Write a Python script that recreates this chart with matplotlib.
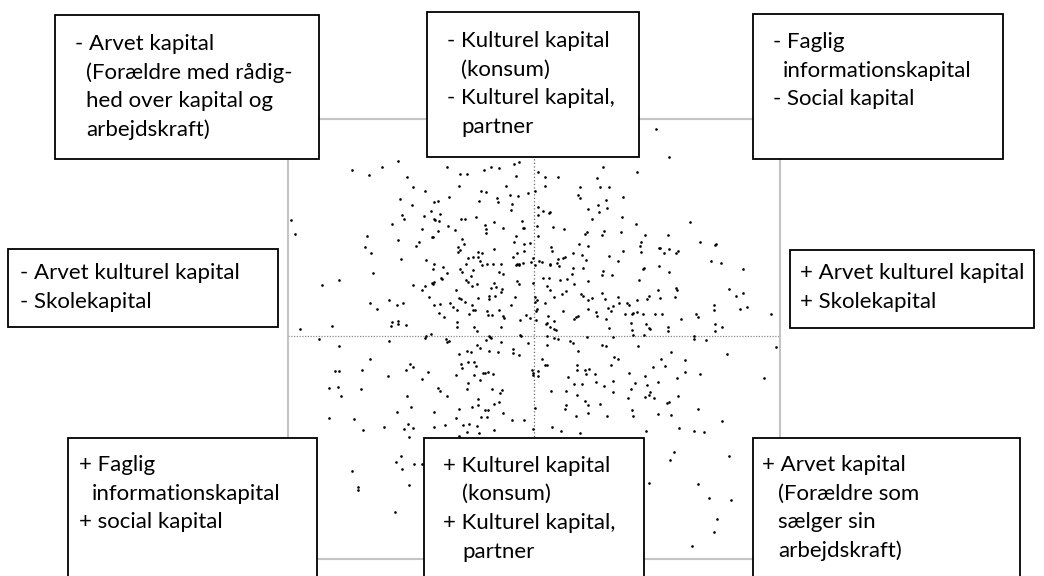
import matplotlib
matplotlib.use("Agg")
import matplotlib.pyplot as plt
from matplotlib.patches import Rectangle

# ---------------- data (object scores, dimension 1 = x, dimension 2 = y) ----------------
upper_left = [(-1.82,1.66),(-1.65,1.61),(-1.52,1.69),(-1.36,1.75),(-1.27,1.59),(-1.21,1.49),(-1.09,1.45),(-0.87,1.69),
    (-1.34,1.37),(-1.22,1.31),(-1.00,1.34),(-0.96,1.35),(-0.85,1.39),(-2.43,1.16),(-2.39,1.02),(-1.32,1.21),(-1.30,1.17),
    (-1.10,1.20),(-1.03,1.25),(-0.94,1.22),(-1.00,1.17),(-0.99,1.16),(-0.95,1.15),(-1.42,1.12),(-0.86,1.10),(-1.12,1.07),
    (-0.96,1.05),(-1.67,1.00),(-1.36,0.96),(-1.02,0.99),(-1.01,0.99),(-1.15,0.94),(-1.18,0.90),(-1.69,0.89),(-1.63,0.83),
    (-1.33,0.77),(-1.08,0.76),(-1.00,0.72)]

upper_center = [(-0.74,1.62),(-0.67,1.62),(-0.50,1.66),(-0.43,1.69),(-0.35,1.68),(-0.20,1.72),(-0.15,1.74),(-0.18,1.60),
    (0.04,1.64),(0.11,1.59),(0.24,1.59),(0.69,1.69),(0.63,1.58),(-0.75,1.50),(-0.53,1.45),(-0.48,1.44),(-0.28,1.50),
    (0.11,1.50),(0.46,1.49),(0.66,1.49),(0.75,1.49),(-0.55,1.35),(-0.37,1.38),(-0.36,1.34),(-0.24,1.41),(-0.16,1.40),
    (-0.06,1.43),(0.01,1.45),(-0.22,1.32),(-0.23,1.26),(0.04,1.29),(0.44,1.41),(0.46,1.38),(0.64,1.31),(0.72,1.36),
    (0.54,1.27),(0.65,1.24),(0.73,1.28),(-0.73,1.17),(-0.69,1.17),(-0.58,1.19),(-0.40,1.14),(-0.49,1.11),(-0.48,1.07),
    (-0.48,1.03),(-0.31,1.08),(-0.12,1.15),(-0.11,1.08),(-0.10,1.08),(-0.79,1.06),(0.03,1.10),(0.16,1.24),(0.15,1.23),
    (0.09,1.25),(0.04,1.21),(0.19,1.09),(0.30,1.07),(0.58,1.17),(0.51,1.02),(0.53,1.04),(0.68,1.01),(0.70,1.05),
    (-0.72,0.97),(-0.70,0.92),(-0.76,0.89),(-0.74,0.86),(-0.76,0.84),(-0.56,0.84),(-0.52,0.83),(-0.40,0.87),(-0.20,0.94),
    (-0.18,1.00),(-0.10,0.92),(-0.04,0.93),(0.04,1.00),(-0.21,0.79),(-0.17,0.83),(-0.10,0.85),(-0.01,0.78),(0.05,0.75),
    (0.08,0.74),(0.17,0.89),(0.18,0.85),(0.29,0.78),(0.31,0.79),(0.24,0.77),(0.39,0.83),(0.45,0.92),(0.54,0.90),
    (0.48,0.81),(0.52,0.76),(0.75,0.80),(-0.66,0.78),(-0.61,0.79),(-0.56,0.79),(-0.54,0.75),(-0.68,0.72),(-0.47,0.72),
    (-0.41,0.72),(-0.33,0.72),(-0.17,0.72),(-0.15,0.72),(-0.11,0.73),(-0.03,0.74),(0.16,0.72),(0.23,0.73)]

upper_right = [(1.22,2.07),(1.35,1.79),(1.03,1.64),(0.89,1.39),(0.88,1.19),(1.02,1.12),(1.56,1.14),(0.87,1.04),
    (1.11,1.01),(1.34,1.01),(1.07,0.94),(1.06,0.90),(0.89,0.85),(1.07,0.84),(1.25,0.88),(1.26,0.88),(1.35,0.87),
    (1.30,0.83),(1.42,0.83),(1.44,0.85),(1.66,0.94),(1.81,0.91),(1.82,0.92),(0.84,0.75),(1.77,0.75),(1.87,0.73)]

middle_left = [(-1.61,0.63),(-1.95,0.56),(-2.12,0.51),(-1.01,0.67),(-0.91,0.69),(-0.87,0.63),(-1.21,0.51),(-1.12,0.46),
    (-1.09,0.50),(-1.02,0.53),(-1.00,0.54),(-1.01,0.52),(-0.93,0.58),(-0.92,0.57),(-1.05,0.39),(-1.45,0.36),(-1.64,0.33),
    (-1.57,0.27),(-1.37,0.31),(-1.31,0.33),(-1.00,0.31),(-0.94,0.32),(-0.95,0.23),(-0.90,0.19),(-2.34,0.07),(-2.02,0.10),
    (-1.42,0.14),(-1.43,0.10),(-1.36,0.15),(-1.36,0.12),(-1.28,0.11),(-2.15,-0.03),(-1.95,-0.10),(-1.45,-0.05),
    (-1.09,-0.02),(-1.08,0.00),(-1.03,0.02),(-0.88,-0.03),(-0.87,-0.06),(-0.85,-0.05),(-1.64,-0.23),(-1.99,-0.35),
    (-1.95,-0.35),(-1.72,-0.34),(-1.46,-0.40),(-1.24,-0.28),(-1.21,-0.31),(-1.28,-0.34),(-1.06,-0.36),(-1.12,-0.43),
    (-2.05,-0.52),(-1.96,-0.51),(-1.93,-0.60),(-1.73,-0.53),(-1.27,-0.60),(-0.96,-0.52),(-0.94,-0.55),(-0.87,-0.60),
    (-1.23,-0.71),(-1.37,-0.76),(-1.00,-0.76)]

middle_center = [(-0.74,0.67),(-0.72,0.64),(-0.61,0.66),(-0.52,0.71),(-0.35,0.64),(-0.31,0.62),(-0.18,0.71),(-0.15,0.71),
    (0.01,0.71),(0.16,0.71),(0.25,0.70),(0.39,0.68),(0.49,0.68),(0.69,0.65),(0.68,0.61),(0.78,0.61),(-0.63,0.60),
    (-0.68,0.56),(-0.66,0.54),(-0.62,0.50),(-0.57,0.52),(-0.78,0.46),(-0.40,0.53),(-0.43,0.48),(-0.38,0.49),(-0.32,0.47),
    (-0.17,0.55),(-0.15,0.52),(-0.01,0.53),(0.09,0.58),(0.15,0.58),(0.13,0.50),(0.16,0.46),(0.26,0.56),(0.33,0.57),
    (0.38,0.62),(0.40,0.52),(0.54,0.55),(0.68,0.43),(0.28,0.42),(0.32,0.45),(0.47,0.42),(0.49,0.40),(0.54,0.36),
    (0.58,0.38),(0.71,0.37),(0.74,0.28),(0.79,0.30),(0.77,0.25),(-0.73,0.37),(-0.75,0.38),(-0.81,0.29),(-0.77,0.26),
    (-0.84,0.33),(-0.69,0.34),(-0.62,0.31),(-0.61,0.26),(-0.56,0.38),(-0.45,0.40),(-0.45,0.37),(-0.39,0.40),(-0.33,0.44),
    (-0.23,0.31),(-0.19,0.39),(0.01,0.39),(0.03,0.36),(0.01,0.34),(0.03,0.27),(0.02,0.25),(0.11,0.33),(0.20,0.39),
    (-0.47,0.25),(-0.46,0.21),(-0.42,0.21),(-0.31,0.20),(-0.30,0.18),(-0.35,0.26),(-0.65,0.22),(-0.59,0.26),(-0.77,0.14),
    (-0.77,0.09),(-0.14,0.16),(-0.08,0.21),(-0.04,0.18),(0.02,0.16),(0.14,0.20),(0.12,0.12),(0.13,0.13),(0.20,0.15),
    (0.16,0.09),(0.20,0.07),(0.22,0.06),(0.29,0.25),(0.42,0.19),(0.40,0.17),(0.44,0.20),(0.62,0.24),(0.63,0.20),
    (0.72,0.17),(0.75,0.08),(0.54,0.27),(-0.60,0.09),(-0.57,0.05),(-0.33,0.09),(-0.45,0.00),(-0.44,-0.01),(-0.43,-0.02),
    (-0.48,-0.04),(-0.33,-0.06),(-0.14,0.01),(-0.13,0.00),(0.13,0.00),(0.20,-0.02),(0.24,-0.03),(0.36,-0.05),(0.39,-0.07),
    (0.53,-0.01),(0.79,-0.01),(0.68,-0.09),(0.72,-0.10),(-0.57,-0.09),(-0.54,-0.12),(-0.67,-0.15),(-0.63,-0.16),
    (-0.75,-0.18),(-0.21,-0.13),(-0.21,-0.17),(-0.15,-0.19),(-0.06,-0.07),(-0.36,-0.16),(-0.45,-0.15),(0.13,-0.09),
    (0.08,-0.23),(0.11,-0.29),(0.13,-0.29),(0.44,-0.15),(0.80,-0.21),(-0.73,-0.28),(-0.72,-0.32),(-0.66,-0.26),
    (-0.60,-0.26),(-0.58,-0.30),(-0.60,-0.39),(-0.78,-0.39),(-0.51,-0.37),(-0.49,-0.37),(-0.46,-0.36),(-0.41,-0.38),
    (-0.54,-0.44),(-0.02,-0.34),(-0.01,-0.37),(-0.01,-0.39),(0.04,-0.35),(0.04,-0.40),(0.43,-0.29),(0.43,-0.34),
    (0.51,-0.34),(0.55,-0.33),(0.52,-0.38),(0.34,-0.41),(0.61,-0.38),(0.77,-0.29),(0.40,-0.48),(0.48,-0.48),(0.62,-0.46),
    (0.79,-0.45),(-0.66,-0.47),(-0.67,-0.53),(-0.42,-0.53),(-0.32,-0.54),(-0.34,-0.57),(0.17,-0.55),(0.32,-0.55),
    (0.43,-0.59),(0.70,-0.50),(0.79,-0.56),(-0.56,-0.63),(-0.56,-0.69),(-0.40,-0.68),(-0.35,-0.66),(-0.31,-0.77),
    (-0.49,-0.74),(-0.46,-0.74),(-0.62,-0.71),(-0.75,-0.73),(0.32,-0.69),(0.31,-0.73),(0.51,-0.65),(0.54,-0.69),
    (0.66,-0.68),(0.54,-0.77),(0.01,-0.72)]

middle_right = [(1.10,0.68),(1.09,0.67),(1.25,0.70),(1.35,0.64),(2.09,0.67),(1.05,0.56),(1.24,0.46),(1.42,0.48),
    (1.43,0.46),(1.15,0.40),(1.13,0.37),(1.26,0.38),(1.41,0.39),(0.84,0.39),(0.85,0.33),(0.93,0.33),(0.95,0.31),
    (1.03,0.36),(0.91,0.22),(0.98,0.22),(0.99,0.23),(1.03,0.24),(1.09,0.22),(1.21,0.22),(1.28,0.22),(1.47,0.17),
    (1.62,0.22),(1.64,0.19),(1.80,0.31),(1.80,0.26),(1.95,0.47),(2.02,0.40),(2.09,0.43),(2.06,0.27),(2.13,0.29),
    (2.37,0.22),(0.97,0.13),(0.98,0.06),(1.12,0.12),(1.15,0.08),(1.16,0.07),(1.34,0.09),(1.34,0.05),(1.81,0.12),
    (1.88,0.09),(1.81,0.05),(0.99,0.01),(1.10,0.01),(1.60,0.00),(1.60,-0.03),(1.72,-0.04),(1.04,-0.10),(1.37,-0.16),
    (0.84,-0.23),(1.27,-0.23),(1.51,-0.24),(1.93,-0.18),(2.42,-0.11),(0.95,-0.37),(1.19,-0.31),(1.31,-0.30),(1.51,-0.36),
    (1.66,-0.38),(1.11,-0.40),(1.43,-0.42),(2.30,-0.42),(1.01,-0.47),(1.13,-0.49),(1.24,-0.46),(0.97,-0.53),(1.16,-0.56),
    (1.15,-0.59),(0.94,-0.62),(1.11,-0.61),(1.20,-0.62),(1.44,-0.60),(1.35,-0.66),(1.33,-0.67),(0.98,-0.74),(1.64,-0.73),
    (1.24,-0.78),(1.37,-0.79)]

lower = [(-2.05,-0.82),(-1.80,-0.83),(-1.71,-0.94),(-1.50,-0.91),(-1.30,-0.93),(-1.26,-0.88),(-1.21,-0.92),(-1.25,-1.01),
    (-1.00,-0.91),(-0.89,-0.89),(-1.33,-1.20),(-1.38,-1.26),(-1.32,-1.33),(-1.20,-1.28),(-1.12,-1.28),(-1.82,-1.35),
    (-1.76,-1.51),(-1.76,-1.54),(-1.25,-1.49),(-1.39,-1.76),(-0.78,-0.82),(-0.71,-0.89),(-0.65,-0.88),(-0.53,-0.81),
    (-0.47,-0.81),(-0.57,-0.90),(-0.67,-0.96),(-0.55,-0.97),(-0.75,-1.00),(-0.40,-0.94),(-0.22,-0.84),(-0.10,-0.84),
    (-0.01,-0.93),(0.18,-0.91),(0.27,-0.95),(0.46,-0.97),(0.42,-0.80),(0.73,-0.80),(0.99,-0.80),(1.88,-0.85),(1.12,-0.95),
    (1.45,-0.92),(1.60,-0.95),(1.70,-0.96),(1.40,-1.16),(1.36,-1.24),(1.95,-1.20),(1.15,-1.47),(1.64,-1.48),(1.75,-1.62),
    (1.97,-1.64),(1.83,-1.83),(1.80,-1.96),(1.58,-2.10)]

# ---------------- label boxes ----------------
box_texts = {
    "top_left":   ["- Arvet kapital", "(Forældre med rådig-", "hed over kapital og", "arbejdskraft)"],
    "top_mid":    ["- Kulturel kapital", "(konsum)", "- Kulturel kapital,", "partner"],
    "top_right":  ["- Faglig", "informationskapital", "- Social kapital"],
    "mid_left":   ["- Arvet kulturel kapital", "- Skolekapital"],
    "mid_right":  ["+ Arvet kulturel kapital", "+ Skolekapital"],
    "bot_left":   ["+ Faglig", "informationskapital", "+ social kapital"],
    "bot_mid":    ["+ Kulturel kapital", "(konsum)", "+ Kulturel kapital,", "partner"],
    "bot_right":  ["+ Arvet kapital", "(Forældre som", "sælger sin", "arbejdskraft)"],
}

# layout (pixel coordinates of the canvas): rect (l, t, r, b), x of bullet lines, x of continuation lines, first baseline
box_layout = {
    "top_left":  ((54.5, 15, 319, 159), 75, 86, 50),
    "top_mid":   ((427, 12, 639, 157), 447, 461, 47),
    "top_right": ((752.5, 14, 1003, 159), 773, 783, 48),
    "mid_left":  ((8, 249, 278, 327), 20, 20, 279),
    "mid_right": ((790, 250, 1034, 328), 800, 800, 279),
    "bot_left":  ((68, 438, 317, 600), 79, 92, 471),
    "bot_mid":   ((424, 438, 644, 600), 443, 462, 471.5),
    "bot_right": ((752.5, 438, 1020, 600), 762, 778, 471),
}
LINE_STEP = 28.7

W, H = 1044, 576
fig = plt.figure(figsize=(W / 100, H / 100), dpi=100)
fig.patch.set_facecolor("white")

# scatter axes, frame from x=288..780, y=118.5..559 px
L, R, T, B = 288, 780, 118.5, 559
ax = fig.add_axes([L / W, (H - B) / H, (R - L) / W, (B - T) / H])
groups = (upper_left, upper_center, upper_right, middle_left, middle_center, middle_right, lower)
xs = [p[0] for grp in groups for p in grp]
ys = [p[1] for grp in groups for p in grp]
ax.scatter(xs, ys, s=3.6, c="black", marker="o", linewidths=0, zorder=3)
ax.axhline(0, color="#8a8a8a", lw=0.9, dashes=(1, 1.2), zorder=2)
ax.axvline(0, color="#6a6a6a", lw=0.9, dashes=(1, 1.8), zorder=2)
ax.set_xlim(-2.46, 2.46)
ax.set_ylim(-2.23, 2.175)
ax.set_xticks([])
ax.set_yticks([])
for sp in ax.spines.values():
    sp.set_color("#c4c4c4")
    sp.set_linewidth(1.5)

# overlay in pixel units for label boxes
ov = fig.add_axes([0, 0, 1, 1], zorder=10)
ov.set_xlim(0, W)
ov.set_ylim(H, 0)
ov.axis("off")
ov.patch.set_alpha(0)

FONT = dict(family=["Lato", "DejaVu Sans"], size=16, color="black")
for key, lines in box_texts.items():
    (l, t, r, b), x0, xi, base = box_layout[key]
    ov.add_patch(Rectangle((l, t), r - l, b - t, facecolor="white", edgecolor="black", lw=1.3, zorder=1,
                           clip_on=False))
    for i, line in enumerate(lines):
        x = x0 if line[:1] in "-+" else xi
        ov.text(x, base + i * LINE_STEP, line, va="baseline", ha="left", zorder=2, **FONT)

fig.savefig("out.png", dpi=100, facecolor="white")
